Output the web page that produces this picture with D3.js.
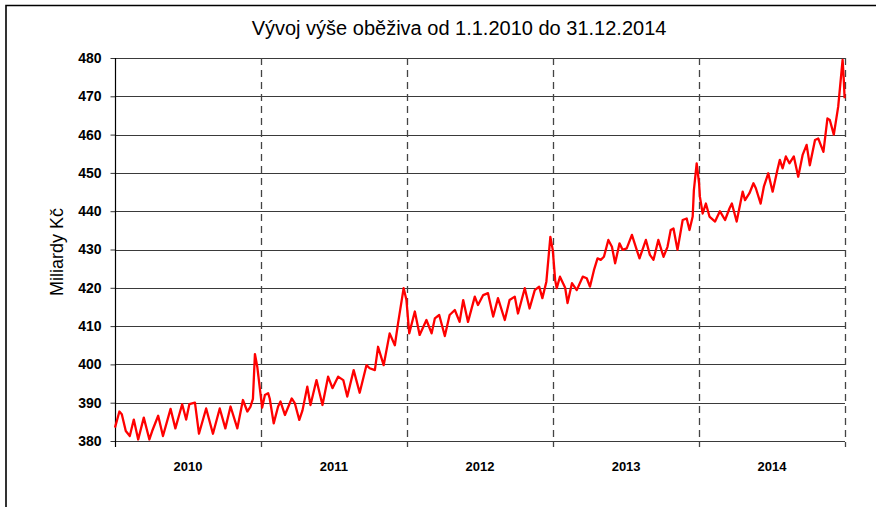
<!DOCTYPE html>
<html>
<head>
<meta charset="utf-8">
<script src="https://cdn.jsdelivr.net/npm/d3@7"></script>
<style>
body { margin: 0; background: #fff; }
</style>
</head>
<body>
<div id="chart"></div>
<script>

// data (billions CZK)
const title = 'Vývoj výše oběživa od 1.1.2010 do 31.12.2014';
const yLabel = 'Miliardy Kč';
const yTicks = [380, 390, 400, 410, 420, 430, 440, 450, 460, 470, 480];
const years = ['2010', '2011', '2012', '2013', '2014'];

const dates = [
    // 2010
    '2010-01-01', '2010-01-12', '2010-01-18', '2010-01-28', '2010-02-07', '2010-02-17', '2010-02-28',
    '2010-03-14', '2010-03-28', '2010-04-04', '2010-04-19', '2010-05-01', '2010-05-20', '2010-06-01',
    '2010-06-18', '2010-06-28', '2010-07-06', '2010-07-20', '2010-07-30', '2010-08-17', '2010-09-03',
    '2010-09-20', '2010-10-04', '2010-10-17', '2010-11-03', '2010-11-17', '2010-11-28', '2010-12-06',
    '2010-12-12', '2010-12-17', '2010-12-23', '2011-01-04',
    // 2011
    '2011-01-11', '2011-01-19', '2011-01-23', '2011-02-02', '2011-02-13', '2011-02-19', '2011-03-02',
    '2011-03-19', '2011-03-27', '2011-04-07', '2011-04-15', '2011-04-27', '2011-05-05', '2011-05-20',
    '2011-05-28', '2011-06-04', '2011-06-18', '2011-06-29', '2011-07-13', '2011-07-26', '2011-08-05',
    '2011-08-21', '2011-09-05', '2011-09-22', '2011-09-30', '2011-10-13', '2011-10-21', '2011-11-04',
    '2011-11-19', '2011-12-02', '2011-12-10', '2011-12-24', '2011-12-31',
    // 2012
    '2012-01-07', '2012-01-21', '2012-02-02', '2012-02-19', '2012-03-03', '2012-03-11', '2012-03-22',
    '2012-04-05', '2012-04-17', '2012-04-30', '2012-05-12', '2012-05-21', '2012-06-02', '2012-06-19',
    '2012-06-27', '2012-07-10', '2012-07-22', '2012-08-04', '2012-08-16', '2012-09-02', '2012-09-14',
    '2012-09-27', '2012-10-05', '2012-10-22', '2012-11-03', '2012-11-16', '2012-11-27', '2012-12-05',
    '2012-12-15', '2012-12-25', '2012-12-31',
    // 2013
    '2013-01-06', '2013-01-10', '2013-01-18', '2013-01-31', '2013-02-06', '2013-02-17', '2013-03-01',
    '2013-03-16', '2013-03-26', '2013-04-03', '2013-04-13', '2013-04-22', '2013-04-30', '2013-05-08',
    '2013-05-19', '2013-05-28', '2013-06-05', '2013-06-16', '2013-06-24', '2013-07-04', '2013-07-17',
    '2013-07-29', '2013-08-05', '2013-08-21', '2013-08-31', '2013-09-09', '2013-09-21', '2013-10-04',
    '2013-10-14', '2013-10-22', '2013-10-29', '2013-11-08', '2013-11-21', '2013-12-01', '2013-12-08',
    '2013-12-16', '2013-12-19', '2013-12-26', '2014-01-01',
    // 2014
    '2014-01-03', '2014-01-10', '2014-01-18', '2014-01-27', '2014-02-10', '2014-02-22', '2014-03-07',
    '2014-03-18', '2014-03-24', '2014-04-05', '2014-04-20', '2014-04-26', '2014-05-07', '2014-05-17',
    '2014-05-23', '2014-06-04', '2014-06-12', '2014-06-23', '2014-07-04', '2014-07-16', '2014-07-22',
    '2014-07-29', '2014-08-06', '2014-08-15', '2014-08-26', '2014-09-06', '2014-09-17', '2014-09-27',
    '2014-10-05', '2014-10-18', '2014-10-26', '2014-11-08', '2014-11-18', '2014-11-24', '2014-12-04',
    '2014-12-15', '2014-12-26', '2014-12-29', '2014-12-31'
];

const values = [
    // 2010
    383.5, 387.7, 387.0, 382.6, 381.3, 385.6, 380.4,
    386.1, 380.4, 382.6, 386.6, 381.3, 388.4, 383.3,
    389.6, 385.6, 389.6, 390.0, 381.9, 388.5, 381.9,
    388.5, 383.3, 389.0, 383.3, 390.7, 387.7, 389.0,
    391.0, 402.7, 399.3, 388.7,
    // 2011
    392.0, 392.5, 391.1, 384.6, 389.0, 390.3, 386.8,
    391.1, 389.8, 385.5, 388.0, 394.2, 389.4, 395.9,
    392.4, 389.4, 396.8, 393.8, 396.8, 395.9, 391.6,
    398.5, 392.6, 399.8, 399.0, 398.5, 404.6, 399.8,
    408.1, 405.0, 410.7, 419.9, 416.8,
    // 2012
    408.1, 413.8, 407.7, 411.6, 408.1, 412.0, 412.9,
    407.4, 412.9, 414.2, 411.1, 416.8, 411.1, 417.7,
    415.5, 418.1, 418.6, 412.5, 417.3, 411.6, 416.8,
    417.7, 413.3, 419.9, 414.6, 419.4, 420.3, 417.3,
    421.6, 433.3, 429.9,
    // 2013
    422.0, 419.9, 422.9, 420.0, 416.0, 421.2, 419.4,
    422.9, 422.5, 420.3, 424.6, 427.7, 427.3, 428.1,
    432.5, 430.7, 426.4, 431.6, 429.9, 430.3, 433.8,
    429.9, 427.7, 432.5, 428.6, 427.3, 432.5, 428.1,
    430.7, 435.1, 435.5, 429.9, 437.7, 438.1, 435.1,
    438.6, 445.5, 452.5, 447.3,
    // 2014
    443.8, 439.4, 442.0, 438.6, 437.3, 440.0, 437.7,
    440.7, 442.0, 437.3, 445.1, 442.9, 444.7, 447.3,
    446.0, 442.0, 446.4, 449.9, 445.1, 450.8, 453.4,
    451.2, 454.3, 452.5, 454.3, 449.0, 454.7, 457.3,
    452.0, 458.6, 459.0, 455.5, 464.2, 463.8, 460.0,
    467.3, 479.5, 474.3, 469.5
];

const width = 876, height = 507;
const plotLeft = 115, plotRight = 845, plotTop = 58, plotBottom = 441;

const parse = d3.timeParse('%Y-%m-%d');
const points = dates.map((d, i) => ({ date: parse(d), value: values[i] }));

const svg = d3.select('#chart')
    .append('svg')
    .attr('width', width)
    .attr('height', height)
    .style('font-family', '"Liberation Sans", Arial, sans-serif');

// frame (only left and top edges visible)
svg.append('path')
    .attr('d', 'M6,' + height + 'V5.5H' + width)
    .attr('fill', 'none')
    .attr('stroke', '#000')
    .attr('stroke-width', 1.6);

svg.append('text')
    .attr('x', 459)
    .attr('y', 35)
    .attr('text-anchor', 'middle')
    .attr('font-size', '20px')
    .attr('fill', '#000')
    .text(title);

let x = d3.scaleTime()
    .domain([new Date(2010, 0, 1), new Date(2015, 0, 1)])
    .range([plotLeft, plotRight]);

let y = d3.scaleLinear()
    .domain([380, 480])
    .range([plotBottom, plotTop]);

// horizontal grid
svg.append('g')
    .selectAll('line')
    .data(yTicks)
    .enter()
    .append('line')
    .attr('x1', plotLeft)
    .attr('x2', plotRight)
    .attr('y1', d => Math.round(y(d)) + 0.5)
    .attr('y2', d => Math.round(y(d)) + 0.5)
    .attr('stroke', '#3a3a3a')
    .attr('stroke-width', 1.2);

// year boundaries, dashed
let bounds = d3.timeYear.range(new Date(2011, 0, 1), new Date(2015, 0, 2));
svg.append('g')
    .selectAll('line')
    .data(bounds)
    .enter()
    .append('line')
    .attr('x1', d => Math.round(x(d)) + 0.5)
    .attr('x2', d => Math.round(x(d)) + 0.5)
    .attr('y1', plotTop)
    .attr('y2', plotBottom + 6)
    .attr('stroke', '#444')
    .attr('stroke-width', 1.3)
    .attr('stroke-dasharray', '7,5');

// y axis
let yAxis = d3.axisLeft(y)
    .tickValues(yTicks)
    .tickSize(5)
    .tickPadding(9)
    .tickFormat(d3.format('d'));

let ya = svg.append('g')
    .attr('transform', 'translate(' + (plotLeft + 0.5) + ',0)')
    .call(yAxis);
ya.select('.domain').remove();
ya.selectAll('line').attr('stroke', '#333');
ya.selectAll('text')
    .attr('font-size', '14px')
    .attr('font-weight', 'bold')
    .attr('fill', '#000')
    .style('font-family', '"Liberation Sans", Arial, sans-serif');

svg.append('line')
    .attr('x1', plotLeft + 0.5)
    .attr('x2', plotLeft + 0.5)
    .attr('y1', plotTop)
    .attr('y2', plotBottom + 6)
    .attr('stroke', '#000')
    .attr('stroke-width', 1.2);

// year labels centred in each year
svg.append('g')
    .selectAll('text')
    .data(years)
    .enter()
    .append('text')
    .attr('x', d => (x(new Date(+d, 0, 1)) + x(new Date(+d + 1, 0, 1))) / 2)
    .attr('y', 471)
    .attr('text-anchor', 'middle')
    .attr('font-size', '13px')
    .attr('font-weight', 'bold')
    .attr('fill', '#000')
    .text(d => d);

svg.append('text')
    .attr('transform', 'translate(63, 252) rotate(-90)')
    .attr('text-anchor', 'middle')
    .attr('font-size', '18px')
    .attr('fill', '#000')
    .text(yLabel);

let line = d3.line()
    .x(d => x(d.date))
    .y(d => y(d.value));

svg.append('path')
    .datum(points)
    .attr('d', line)
    .attr('fill', 'none')
    .attr('stroke', '#ff0000')
    .attr('stroke-width', 2.3)
    .attr('stroke-linejoin', 'round');

</script>
</body>
</html>
